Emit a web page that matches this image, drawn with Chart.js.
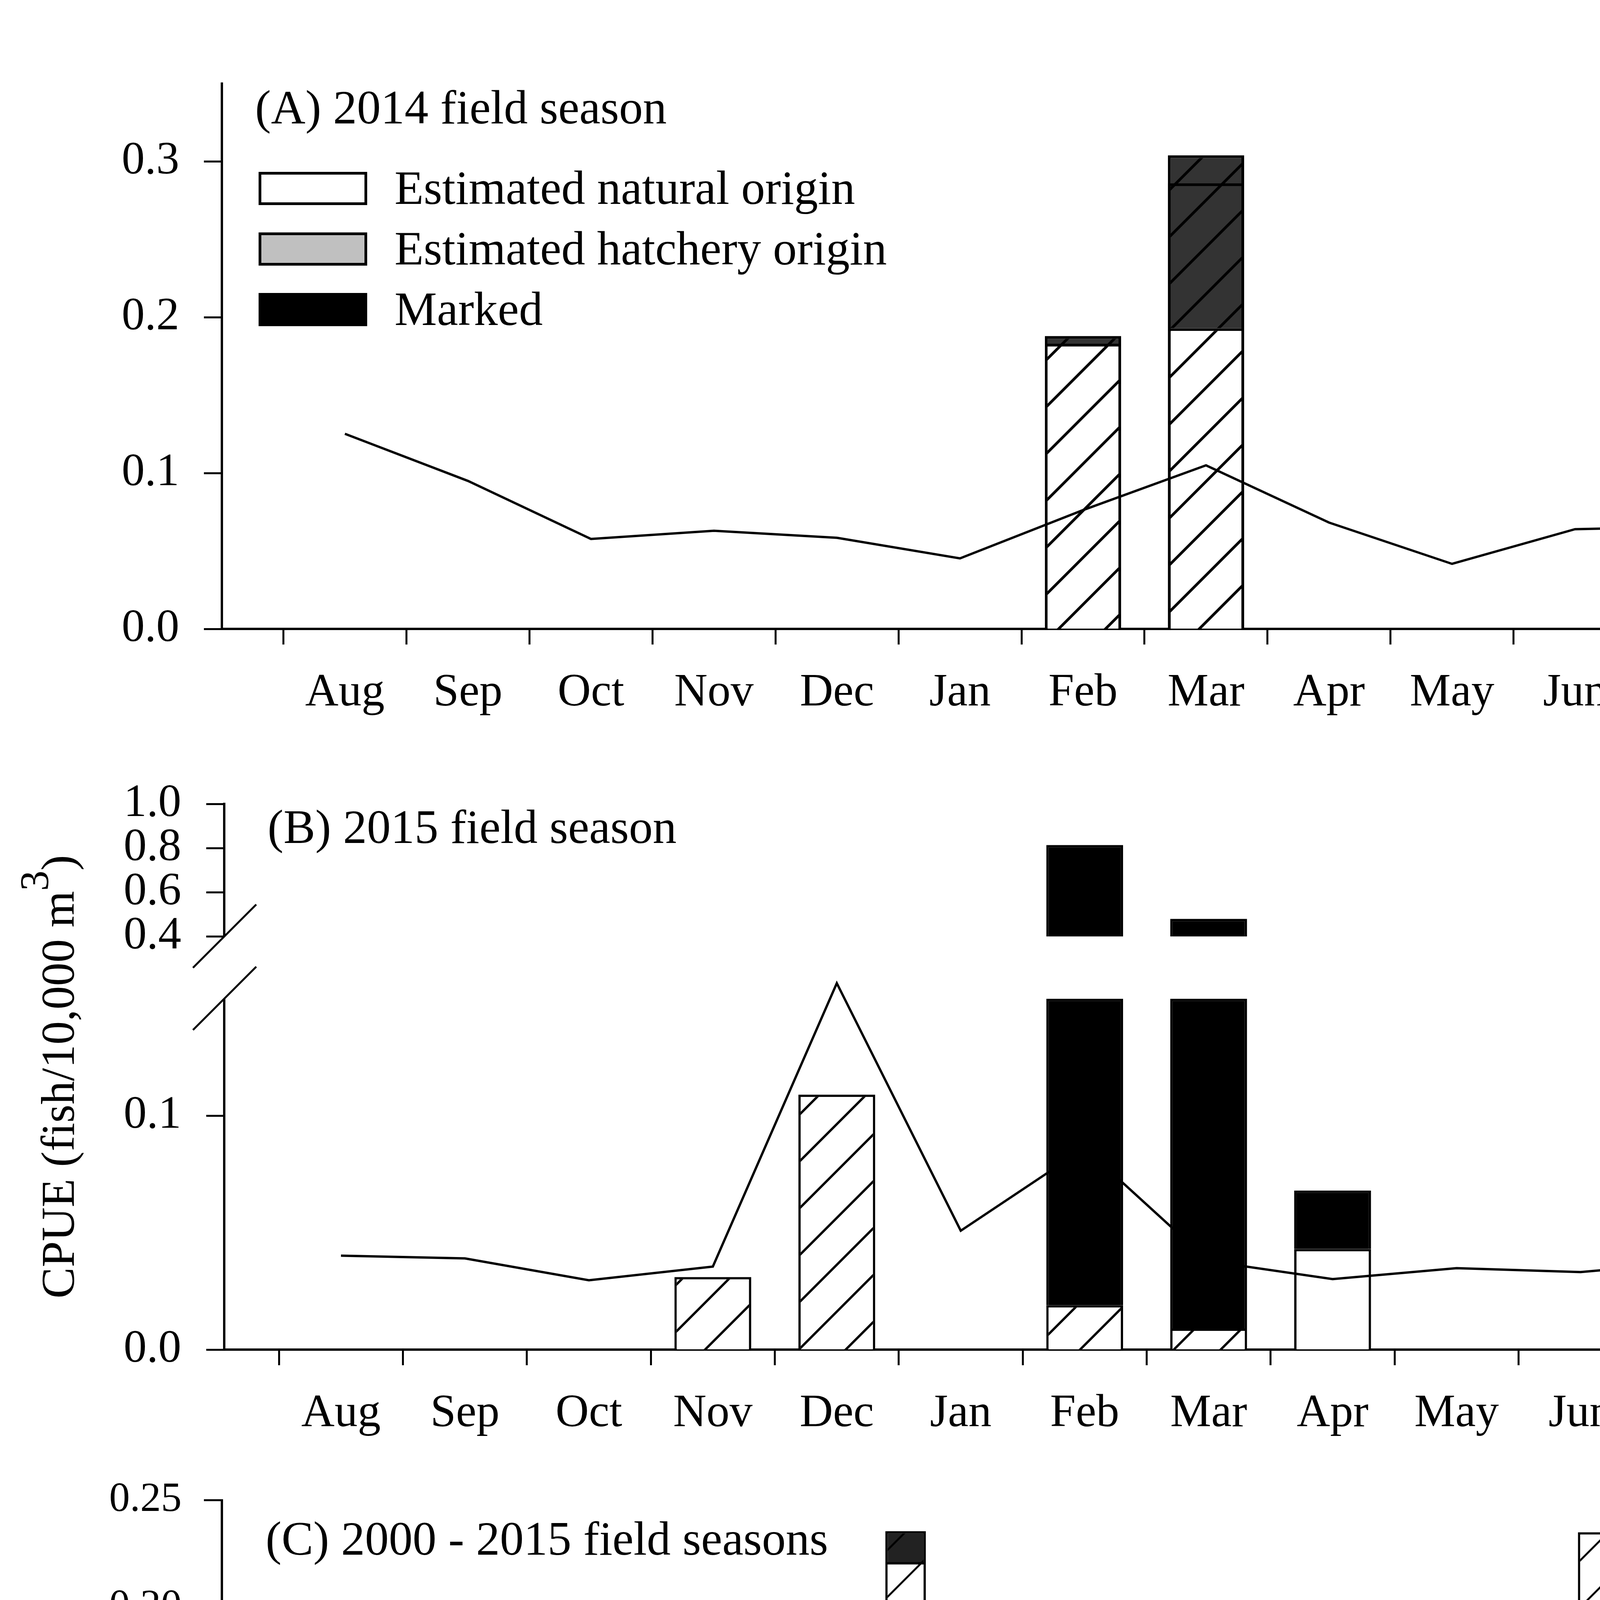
<!DOCTYPE html>
<html>
<head>
<meta charset="utf-8">
<script src="https://cdn.jsdelivr.net/npm/chart.js@4.4.1/dist/chart.umd.min.js"></script>
<style>
  html, body { margin: 0; padding: 0; background: #fff; }
  body { width: 5308px; height: 5544px; position: relative; overflow: hidden; }
  canvas { position: absolute; left: 0; display: block; }
</style>
</head>
<body>
<canvas id="panelA" width="5308" height="1900" style="top:0px"></canvas>
<canvas id="panelB" width="5308" height="1820" style="top:1900px"></canvas>
<canvas id="panelC" width="5308" height="1824" style="top:3720px"></canvas>
<script>
// ---- data ----
const months = ["Aug", "Sep", "Oct", "Nov", "Dec", "Jan", "Feb", "Mar", "Apr", "May", "Jun", "Jul"];

// (A) 2014 field season, CPUE (fish/10,000 m3) and mean discharge (m3/sec)
const a_natural    = [null, null, null, null, null, null, 0.183, 0.193, null, null, null, null];
const a_hatchery   = [null, null, null, null, null, null, 0.005, 0.111, null, null, null, null];
const a_overlay    = [null, null, null, null, null, null, null, 0.286, null, null, null, null];
const a_discharge  = [501, 380, 231, 252, 234, 181, 305, 420, 273, 167, 256, 263];

// (B) 2015 field season
const b_naturalHatched = [null, null, null, 0.031, 0.109, null, 0.019, 0.009, null, null, null, null];
const b_naturalPlain   = [null, null, null, null, null, null, null, null, 0.043, null, null, null];
const b_marked         = [null, null, null, null, null, null, 0.795, 0.471, 0.025, null, null, null];
const b_discharge      = [241, 234, 178, 213, 940, 305, 517, 227, 181, 209, 199, 227];

// (C) 2000 - 2015 field seasons
const years = [2000, 2001, 2002, 2003, 2004, 2005, 2006, 2007, 2008, 2009, 2010, 2011, 2012, 2013, 2014, 2015];
const yearTicks = [2000, 2002, 2004, 2006, 2008, 2010, 2012, 2014];
const c_plainNatural  = [0.024, 0.0033, 0.007, 0.0107, 0.0445, 0.0033, 0.0096, null, null, null, null, 0.0088, 0.0032, null, 0.0415, 0.0054];
const c_plainMarked   = [null, 0.0027, 0.0101, null, 0.0115, null, null, null, null, null, null, null, null, 0.0108, null, 0.0723];
const c_hatchNatural  = [0.0987, 0.140, 0.1416, 0.129, 0.1617, 0.107, 0.221, 0.1217, 0.052, 0.0293, 0.0193, 0.0232, 0.0467, 0.235, 0.0624, 0.0215];
const c_hatchHatchery = [0.0053, null, null, 0.022, null, 0.032, 0.0145, 0.0023, 0.0025, null, 0.031, null, 0.0192, null, 0.0194, 0.101];
const c_discharge     = [718, 426, 506, 706, 672, 647, 1078, 438, 400, 375, 483, 882, 482, 491, 284, 310];

const legendItems = ["Estimated natural origin", "Estimated hatchery origin", "Marked"];

// ---- styling ----
const FONT = '"Liberation Serif", "Times New Roman", serif';
Chart.defaults.font.family = FONT;
Chart.defaults.color = "#000";

function hatch(fill, lw) {
  const s = 120;
  const c = document.createElement("canvas");
  c.width = s; c.height = s;
  const g = c.getContext("2d");
  g.fillStyle = fill;
  g.fillRect(0, 0, s, s);
  g.strokeStyle = "#000";
  g.lineWidth = lw;
  g.beginPath();
  g.moveTo(-10, s + 10); g.lineTo(s + 10, -10);
  g.moveTo(-10, 10); g.lineTo(10, -10);
  g.moveTo(s - 10, s + 10); g.lineTo(s + 10, s - 10);
  g.stroke();
  return g.createPattern(c, "repeat");
}

const monthPts = arr => arr.map((v, i) => v == null ? null : { x: i + 1, y: v }).filter(Boolean);
const yearPts = arr => arr.map((v, i) => v == null ? null : { x: years[i], y: v }).filter(Boolean);

function axis(extra, tickLen, size, pad) {
  return Object.assign({
    border: { display: true, color: "#000", width: 6 },
    grid: { drawOnChartArea: false, drawTicks: true, tickLength: tickLen, tickWidth: 5, tickColor: "#000" },
    ticks: { font: { size: size }, padding: pad, color: "#000", autoSkip: false, maxRotation: 0, minRotation: 0 }
  }, extra);
}
const setTicks = vals => scale => { scale.ticks = vals.map(v => ({ value: v })); };

// panel label + legend
const panelText = {
  id: "panelText",
  afterDraw(chart, args, opts) {
    const { ctx, chartArea: ca } = chart;
    ctx.save();
    ctx.fillStyle = "#000";
    ctx.textAlign = "left";
    ctx.textBaseline = "alphabetic";
    ctx.font = "122px " + FONT;
    ctx.fillText(opts.text, ca.left + opts.dx, ca.top + opts.dy);
    if (opts.legend) {
      const fills = ["#ffffff", "#c0c0c0", "#000000"];
      legendItems.forEach((lab, i) => {
        const top = ca.top + 226 + i * 155;
        ctx.fillStyle = fills[i];
        ctx.fillRect(ca.left + 94, top, 278, 85);
        ctx.strokeStyle = "#000";
        ctx.lineWidth = 7;
        ctx.strokeRect(ca.left + 97.5, top + 3.5, 271, 78);
        ctx.fillStyle = "#000";
        ctx.fillText(lab, ca.left + 442, top + 82);
      });
    }
    ctx.restore();
  }
};

// rotated axis titles with raised superscript
const axisTitles = {
  id: "axisTitles",
  afterDraw(chart, args, opts) {
    const { ctx, chartArea: ca } = chart;
    const cy = (ca.top + ca.bottom) / 2;
    opts.items.forEach(it => {
      ctx.save();
      ctx.translate(it.x, cy);
      ctx.rotate(-Math.PI / 2);
      ctx.fillStyle = "#000";
      ctx.textBaseline = "alphabetic";
      ctx.textAlign = "left";
      let total = 0;
      it.parts.forEach(p => { ctx.font = p.s + "px " + FONT; p.w = ctx.measureText(p.t).width; total += p.w; });
      let x = -total / 2;
      it.parts.forEach(p => { ctx.font = p.s + "px " + FONT; ctx.fillText(p.t, x, -(p.r || 0)); x += p.w; });
      ctx.restore();
    });
  }
};

// ---- broken scale for panel B ----
const B_BREAK = { lo: 0.15, hi: 0.4, dLo: 0.643, dHi: 0.757 };
class BrokenLinear extends Chart.LinearScale {
  static id = "brokenLinear";
  static defaults = {};
  toDecimal(v) {
    const b = B_BREAK;
    if (v <= b.lo) return (v - this.min) / (b.lo - this.min) * b.dLo;
    if (v <= b.hi) return b.dLo + (v - b.lo) / (b.hi - b.lo) * (b.dHi - b.dLo);
    return b.dHi + (v - b.hi) / (this.max - b.hi) * (1 - b.dHi);
  }
  getPixelForValue(v) {
    if (v === null || v === undefined) return NaN;
    return this.getPixelForDecimal(this.toDecimal(v));
  }
  getValueForPixel(p) {
    const b = B_BREAK, d = this.getDecimalForPixel(p);
    if (d <= b.dLo) return this.min + d / b.dLo * (b.lo - this.min);
    if (d <= b.dHi) return b.lo + (d - b.dLo) / (b.dHi - b.dLo) * (b.hi - b.lo);
    return b.hi + (d - b.dHi) / (1 - b.dHi) * (this.max - b.hi);
  }
}
Chart.register(BrokenLinear);

const brokenAxis = {
  id: "brokenAxis",
  afterDraw(chart) {
    const y = chart.scales.y, ctx = chart.ctx, x = chart.chartArea.left;
    ctx.save();
    ctx.strokeStyle = "#000";
    ctx.lineWidth = 6;
    ctx.beginPath();
    ctx.moveTo(x, y.getPixelForValue(0) + 3);
    ctx.lineTo(x, y.getPixelForValue(B_BREAK.lo));
    ctx.moveTo(x, y.getPixelForValue(B_BREAK.hi));
    ctx.lineTo(x, y.getPixelForValue(y.max) - 3);
    ctx.stroke();
    ctx.lineWidth = 5;
    [B_BREAK.lo, B_BREAK.hi].forEach(v => {
      const p = y.getPixelForValue(v);
      ctx.beginPath();
      ctx.moveTo(x - 80, p + 80);
      ctx.lineTo(x + 82, p - 82);
      ctx.stroke();
    });
    ctx.restore();
  }
};

const barBase = { type: "bar", borderColor: "#000", borderWidth: 6, order: 2, yAxisID: "y", xAxisID: "x" };
const lineBase = { type: "line", borderColor: "#000", borderWidth: 6, pointRadius: 0, tension: 0, fill: false, order: 0, yAxisID: "y2", xAxisID: "x" };
const common = { responsive: false, animation: false, devicePixelRatio: 1, events: [] };

// ---- (A) ----
const aBar = { grouped: false, categoryPercentage: 0.62, barPercentage: 1, borderWidth: 7 };
new Chart(document.getElementById("panelA"), {
  type: "bar",
  data: {
    datasets: [
      Object.assign({}, barBase, aBar, { label: "Estimated natural origin", data: monthPts(a_natural), backgroundColor: hatch("#ffffff", 7), stack: "h" }),
      Object.assign({}, barBase, aBar, { label: "Estimated hatchery origin", data: monthPts(a_hatchery), backgroundColor: hatch("#333333", 7), stack: "h" }),
      // second outline drawn over the March bar
      Object.assign({}, barBase, aBar, { label: "overlay", data: monthPts(a_overlay), backgroundColor: "rgba(0,0,0,0)", stack: "o", order: 1 }),
      Object.assign({}, lineBase, { label: "Mean discharge", data: monthPts(a_discharge) })
    ]
  },
  options: Object.assign({}, common, {
    layout: { padding: { top: 214, left: 0, right: 0, bottom: 0 } },
    plugins: { legend: { display: false }, tooltip: { enabled: false },
      panelText: { text: "(A) 2014 field season", dx: 85, dy: 102, legend: true } },
    scales: {
      x: axis({ type: "linear", min: 0, max: 13, offset: false, stacked: true, z: 1,
        afterBuildTicks: setTicks(months.map((m, i) => i + 1)),
        afterFit: s => { s.height = 290; } }, 40, 118, 54),
      y: axis({ type: "linear", position: "left", min: 0, max: 0.35, stacked: true,
        afterBuildTicks: setTicks([0, 0.1, 0.2, 0.3]),
        afterFit: s => { s.width = 568; } }, 46, 118, 63),
      y2: axis({ type: "linear", position: "right", min: 0, max: 1400,
        afterBuildTicks: setTicks([0, 200, 400, 600, 800, 1000, 1200, 1400]),
        afterFit: s => { s.width = 646; } }, 46, 118, 78)
    }
  }),
  plugins: [panelText]
});
const chA = Chart.getChart("panelA");
chA.options.scales.x.ticks.callback = v => months[v - 1] || "";
chA.options.scales.y.ticks.callback = v => v.toFixed(1);
chA.update();

// ---- (B) ----
function floatParts(base, vals) {
  const low = [], up = [];
  vals.forEach((v, i) => {
    if (v == null) return;
    const s = base[i], e = s + v;
    if (s < B_BREAK.lo) low.push({ x: i + 1, y: [s, Math.min(e, B_BREAK.lo)] });
    if (e > B_BREAK.hi) up.push({ x: i + 1, y: [Math.max(s, B_BREAK.hi), e] });
  });
  return low.concat(up);
}
const zeros = months.map(() => 0);
const bMarkedBase = months.map((m, i) => (b_naturalHatched[i] || 0) + (b_naturalPlain[i] || 0));
const bBar = { grouped: false, categoryPercentage: 0.62, barPercentage: 1 };

new Chart(document.getElementById("panelB"), {
  type: "bar",
  data: {
    datasets: [
      Object.assign({}, barBase, bBar, { label: "Estimated natural origin", data: floatParts(zeros, b_naturalHatched), backgroundColor: hatch("#ffffff", 6) }),
      Object.assign({}, barBase, bBar, { label: "Estimated natural origin (plain)", data: floatParts(zeros, b_naturalPlain), backgroundColor: "#ffffff" }),
      Object.assign({}, barBase, bBar, { label: "Marked", data: floatParts(bMarkedBase, b_marked), backgroundColor: "#000000" }),
      Object.assign({}, lineBase, { label: "Mean discharge", data: monthPts(b_discharge) })
    ]
  },
  options: Object.assign({}, common, {
    layout: { padding: { top: 158, left: 0, right: 0, bottom: 0 } },
    plugins: { legend: { display: false }, tooltip: { enabled: false },
      panelText: { text: "(B) 2015 field season", dx: 111, dy: 100, legend: false },
      axisTitles: { items: [
        { x: 189, parts: [{ t: "CPUE (fish/10,000 m", s: 120 }, { t: "3", s: 104, r: 66 }, { t: ")", s: 120 }] },
        { x: 5269, parts: [{ t: "Mean discharge (m", s: 120 }, { t: "3", s: 86, r: 84 }, { t: "/sec)", s: 120 }] }
      ] } },
    scales: {
      x: axis({ type: "linear", min: 0.058, max: 12.9, offset: false, z: 1,
        afterBuildTicks: setTicks(months.map((m, i) => i + 1)),
        afterFit: s => { s.height = 265; } }, 40, 118, 54),
      y: axis({ type: "brokenLinear", position: "left", min: 0, max: 1.0, stacked: false,
        afterBuildTicks: setTicks([0, 0.1, 0.4, 0.6, 0.8, 1.0]),
        afterFit: s => { s.width = 574; } }, 46, 118, 64),
      y2: axis({ type: "linear", position: "right", min: 0, max: 1400,
        afterBuildTicks: setTicks([0, 200, 400, 600, 800, 1000, 1200, 1400]),
        afterFit: s => { s.width = 659; } }, 46, 118, 76)
    }
  }),
  plugins: [panelText, axisTitles, brokenAxis]
});
const chB = Chart.getChart("panelB");
chB.options.scales.x.ticks.callback = v => months[v - 1] || "";
chB.options.scales.y.border.display = false;
chB.options.scales.y.ticks.callback = v => v.toFixed(1);
chB.update();

// ---- (C) ----
const cBar = { grouped: true, categoryPercentage: 0.82, barPercentage: 1 };
new Chart(document.getElementById("panelC"), {
  type: "bar",
  data: {
    datasets: [
      Object.assign({}, barBase, cBar, { label: "Estimated natural origin", data: yearPts(c_plainNatural), backgroundColor: "#ffffff", stack: "plain" }),
      Object.assign({}, barBase, cBar, { label: "Marked", data: yearPts(c_plainMarked), backgroundColor: "#000000", stack: "plain" }),
      Object.assign({}, barBase, cBar, { label: "Estimated natural origin (hatched)", data: yearPts(c_hatchNatural), backgroundColor: hatch("#ffffff", 5), stack: "hatched" }),
      Object.assign({}, barBase, cBar, { label: "Estimated hatchery origin (hatched)", data: yearPts(c_hatchHatchery), backgroundColor: hatch("#222222", 5), stack: "hatched" }),
      Object.assign({}, lineBase, { label: "Mean discharge", data: yearPts(c_discharge) })
    ]
  },
  options: Object.assign({}, common, {
    layout: { padding: { top: 98, left: 0, right: 0, bottom: 0 } },
    plugins: { legend: { display: false }, tooltip: { enabled: false },
      panelText: { text: "(C) 2000 - 2015 field seasons", dx: 112, dy: 139, legend: false } },
    scales: {
      x: axis({ type: "linear", min: 1999.295, max: 2015.675, offset: false, stacked: true, z: 1,
        afterBuildTicks: setTicks(yearTicks),
        afterFit: s => { s.height = 338; } }, 43, 106, 54),
      y: axis({ type: "linear", position: "left", min: 0, max: 0.25, stacked: true,
        afterBuildTicks: setTicks([0, 0.05, 0.10, 0.15, 0.20, 0.25]),
        afterFit: s => { s.width = 568; } }, 46, 106, 57),
      y2: axis({ type: "linear", position: "right", min: 0, max: 1400,
        afterBuildTicks: setTicks([0, 200, 400, 600, 800, 1000, 1200, 1400]),
        afterFit: s => { s.width = 591; } }, 46, 106, 53)
    }
  }),
  plugins: [panelText]
});
const chC = Chart.getChart("panelC");
chC.options.scales.x.ticks.callback = v => String(v);
chC.options.scales.y.ticks.callback = v => v.toFixed(2);
chC.update();
</script>
</body>
</html>
